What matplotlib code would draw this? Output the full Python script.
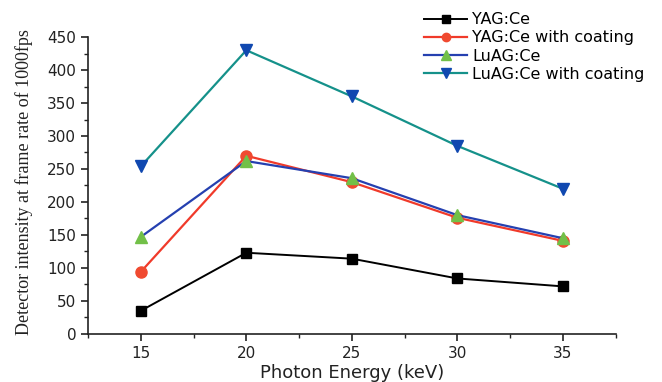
import matplotlib
matplotlib.use("Agg")
import matplotlib.pyplot as plt
from matplotlib.ticker import MultipleLocator

energy = [15, 20, 25, 30, 35]
yag = [35, 123, 114, 84, 72]
yag_coat = [94, 270, 230, 176, 141]
luag = [147, 262, 236, 180, 145]
luag_coat = [254, 430, 360, 285, 220]

labels = ["YAG:Ce", "YAG:Ce with coating", "LuAG:Ce", "LuAG:Ce with coating"]

plt.rcParams['font.family'] = ['DejaVu Sans']

fig = plt.figure(figsize=(6.62, 3.82), dpi=100)
ax = fig.add_axes([0.133, 0.126, 0.797, 0.777])

ax.plot(energy, yag, color='black', lw=1.4, marker='s', ms=7, mfc='black', mec='black', label=labels[0])
ax.plot(energy, yag_coat, color='#f03a2a', lw=1.6, marker='o', ms=8, mfc='#f04a30', mec='#f04a30', label=labels[1])
ax.plot(energy, luag, color='#2540b0', lw=1.6, marker='^', ms=9, mfc='#72c048', mec='#72c048', label=labels[2])
ax.plot(energy, luag_coat, color='#15918a', lw=1.6, marker='v', ms=9, mfc='#1048b0', mec='#1048b0', label=labels[3])

ax.set_xlim(12.5, 37.5)
ax.set_ylim(0, 450)
ax.xaxis.set_major_locator(MultipleLocator(5))
ax.xaxis.set_minor_locator(MultipleLocator(2.5))
ax.yaxis.set_major_locator(MultipleLocator(50))
ax.yaxis.set_minor_locator(MultipleLocator(25))
ax.spines['top'].set_visible(False)
ax.spines['right'].set_visible(False)
for s in ['left', 'bottom']:
    ax.spines[s].set_linewidth(1.2)
    ax.spines[s].set_color('#222222')
ax.tick_params(which='major', direction='out', length=5, width=1.2, labelsize=11, colors='#222222')
ax.tick_params(axis='x', which='major', pad=4)
ax.tick_params(which='minor', direction='out', length=3, width=1.0, colors='#222222')

ax.set_xlabel("Photon Energy (keV)", fontsize=13, color='#222222')
ax.xaxis.set_label_coords(0.5, -0.1)
ax.set_ylabel("Detector intensity at frame rate of 1000fps", fontsize=13,
              family=['Liberation Serif', 'DejaVu Serif'], color='#222222')
ax.yaxis.set_label_coords(-0.105, 0.51)

leg = ax.legend(loc='upper left', bbox_to_anchor=(0.625, 1.105), frameon=False, fontsize=11.5,
                handlelength=2.7, handletextpad=0.3, labelspacing=0.2, borderaxespad=0,
                markerscale=0.75)

fig.savefig("out.png", dpi=100)
